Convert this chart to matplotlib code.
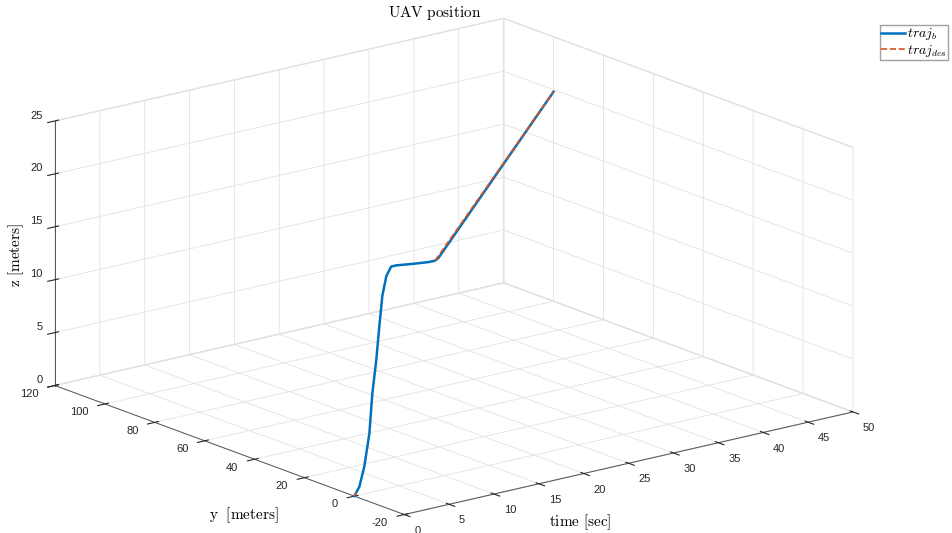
import numpy as np
import matplotlib.pyplot as plt

plt.rcParams['mathtext.fontset'] = 'cm'
plt.rcParams['font.family'] = ['Liberation Sans', 'DejaVu Sans']
plt.rcParams['axes.unicode_minus'] = False
plt.rcParams['grid.color'] = '#e2e2e2'
plt.rcParams['grid.linewidth'] = 0.6

t_b = [0, 0.56, 1.11, 1.67, 2.0, 2.44, 2.78, 3.11, 3.56, 4.1, 4.67, 6.4, 8.3, 9.1, 10.0, 50]
y_b = [0, 0, 0, 0, 0, 0, 0, 0, 0, 0, 0, 0, 0.1, 0.4, 2.2, 100]
z_b = [0, 0.8, 2.6, 5.6, 9.3, 12.4, 15.5, 18.3, 20.1, 20.9, 20.9, 20.7, 20.5, 20.45, 20.4, 19.8]

# desired trajectory (only visible parts)
t_des = [0, 0.2, np.nan, 9.1, 50]
y_des = [0, 0, np.nan, 0.4, 100]
z_des = [0, 0.3, np.nan, 20.45, 19.8]

t_ticks = np.arange(0, 51, 5)
y_ticks = np.arange(-20, 121, 20)
z_ticks = np.arange(0, 26, 5)

fig = plt.figure(figsize=(9.52, 5.33), dpi=100)
ax = fig.add_subplot(projection='3d', proj_type='ortho')
ax.set_position([0.0695, 0.002, 0.8, 0.97])
ax.view_init(elev=16.9, azim=-128.2)
ax.set_box_aspect((572, 566, 277), zoom=1.595)

ax.plot(t_b, y_b, z_b, color='#0072BD', lw=1.8, label=r'$traj_b$')
ax.plot(t_des, y_des, z_des, color='#D95319', lw=1.2, ls='--', label=r'$traj_{des}$')

ax.set_xlim(0, 50)
ax.set_ylim(-20, 120)
ax.set_zlim(0, 25)
ax.set_xticks(t_ticks, [str(v) for v in t_ticks], ha='left')
ax.set_yticks(y_ticks, [str(v) for v in y_ticks], ha='right', va='bottom')
ax.set_zticks(z_ticks, [str(v) for v in z_ticks], ha='right', va='bottom')
ax.tick_params(labelsize=8, colors='#262626')
ax.xaxis.set_tick_params(pad=-2.5)
ax.yaxis.set_tick_params(pad=-1)
ax.zaxis.set_tick_params(pad=-5)

for axis in (ax.xaxis, ax.yaxis, ax.zaxis):
    axis.set_pane_color((1, 1, 1, 1))
    axis.pane.set_edgecolor('#e2e2e2')
    axis.line.set_color('#555555')
    axis.line.set_linewidth(0.7)

fig.text(580 / 952, 1 - 522 / 533, r'$\rm time\ [sec]$', fontsize=11, ha='center', va='center')
fig.text(244 / 952, 1 - 515 / 533, r'$\rm y\ \ [meters]$', fontsize=11, ha='center', va='center')
fig.text(16 / 952, 1 - 255 / 533, r'$\rm z\ [meters]$', fontsize=11, ha='center', va='center',
         rotation=90)
fig.suptitle(r'$\rm UAV\ position$', x=435 / 952, y=1 - 13 / 533, va='center', fontsize=11)

fig.legend(loc='upper left', bbox_to_anchor=(880 / 952, 1 - 25 / 533), fontsize=10,
           fancybox=False, edgecolor='#a0a0a0', framealpha=1, handlelength=1.7,
           labelspacing=0.05, borderpad=0.1, handletextpad=0.15, borderaxespad=0)

fig.savefig('out.png', dpi=100)
